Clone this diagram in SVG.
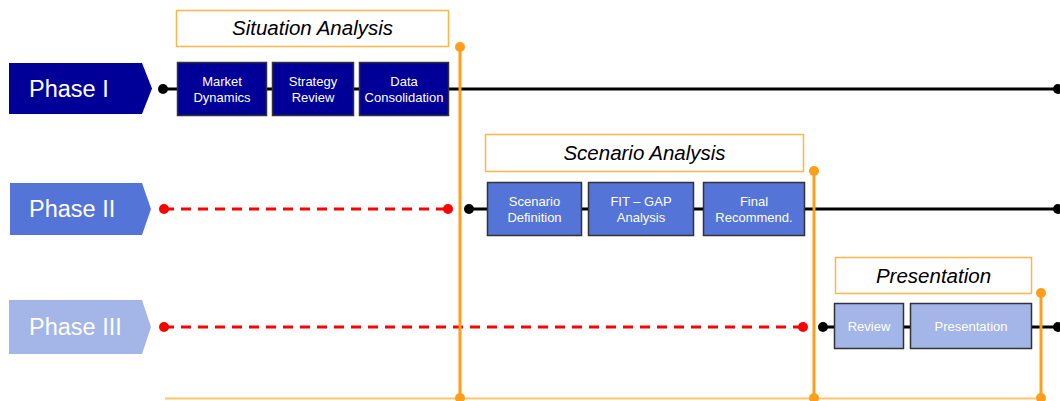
<svg xmlns="http://www.w3.org/2000/svg" width="1060" height="401" viewBox="0 0 1060 401">
<style>
.ph{font-family:"Liberation Sans",Arial,sans-serif;font-size:23.5px;fill:#fff}
.bx{font-family:"Liberation Sans",Arial,sans-serif;font-size:13px;fill:#fff;text-anchor:middle}
.tt{font-family:"Liberation Sans",Arial,sans-serif;font-size:20.5px;font-style:italic;fill:#000;text-anchor:middle}
.tb{fill:#fff;stroke:#FFB547;stroke-width:1.5}
.st{stroke:#333;stroke-width:1.5}
.bl{stroke:#000;stroke-width:3;fill:none}
.rd{stroke:#FF0000;stroke-width:3;stroke-dasharray:10 7;fill:none}
.or{stroke:#FF9E1B;stroke-width:3;fill:none}
</style>
<rect width="1060" height="401" fill="#fff"/>
<g id="connectors">
<line class="bl" x1="163" y1="89" x2="1058" y2="89"/>
<circle cx="163" cy="89" r="5" fill="#000"/>
<circle cx="1058" cy="89" r="5" fill="#000"/>
<line class="rd" x1="164" y1="209" x2="448" y2="209"/>
<circle cx="164" cy="209" r="5" fill="#f00"/>
<circle cx="448" cy="209" r="5" fill="#f00"/>
<line class="bl" x1="469" y1="209" x2="1058" y2="209"/>
<circle cx="469" cy="209" r="5" fill="#000"/>
<circle cx="1058" cy="209" r="5" fill="#000"/>
<line class="rd" x1="164" y1="327" x2="803" y2="327"/>
<circle cx="164" cy="327" r="5" fill="#f00"/>
<circle cx="803" cy="327" r="5" fill="#f00"/>
<line class="bl" x1="823" y1="327" x2="1058" y2="327"/>
<circle cx="823" cy="327" r="5" fill="#000"/>
<circle cx="1058" cy="327" r="5" fill="#000"/>
<line x1="165" y1="398.5" x2="1045" y2="398.5" stroke="#FFC56E" stroke-width="2"/>
<line class="or" x1="460" y1="47" x2="460" y2="398"/>
<circle cx="460" cy="47" r="5" fill="#FF9E1B"/>
<circle cx="460" cy="398" r="5" fill="#FF9E1B"/>
<line class="or" x1="814" y1="171" x2="814" y2="398"/>
<circle cx="814" cy="171" r="5" fill="#FF9E1B"/>
<circle cx="814" cy="398" r="5" fill="#FF9E1B"/>
<line class="or" x1="1041" y1="293" x2="1041" y2="398"/>
<circle cx="1041" cy="293" r="5" fill="#FF9E1B"/>
<circle cx="1041" cy="398" r="5" fill="#FF9E1B"/>
</g>
<g id="phase1">
<polygon points="9,63 142,63 152,88.5 142,114 9,114" fill="#000099"/>
<text class="ph" x="29" y="97">Phase I</text>
</g>
<g id="phase2">
<polygon points="10,183 142,183 151,209 142,235 10,235" fill="#5474D8"/>
<text class="ph" x="29" y="217">Phase II</text>
</g>
<g id="phase3">
<polygon points="9,300 142,300 151,327 142,354 9,354" fill="#A4B5E8"/>
<text class="ph" x="29" y="335">Phase III</text>
</g>
<g id="title1">
<rect class="tb" x="176.5" y="10.5" width="272" height="36"/>
<text class="tt" x="312.5" y="35">Situation Analysis</text>
</g>
<g id="title2">
<rect class="tb" x="485.5" y="134.5" width="318" height="37"/>
<text class="tt" x="644.5" y="160">Scenario Analysis</text>
</g>
<g id="title3">
<rect class="tb" x="835.5" y="257.5" width="196" height="36"/>
<text class="tt" x="933.5" y="283">Presentation</text>
</g>
<g id="market">
<rect class="st" x="177.5" y="62.5" width="89" height="53" fill="#000099"/>
<text class="bx" x="222" y="86">Market</text><text class="bx" x="222" y="102">Dynamics</text>
</g>
<g id="strategy">
<rect class="st" x="272.5" y="62.5" width="81" height="53" fill="#000099"/>
<text class="bx" x="313" y="86">Strategy</text><text class="bx" x="313" y="102">Review</text>
</g>
<g id="data">
<rect class="st" x="359.5" y="62.5" width="89" height="53" fill="#000099"/>
<text class="bx" x="404" y="86">Data</text><text class="bx" x="404" y="102">Consolidation</text>
</g>
<g id="scenario">
<rect class="st" x="487.5" y="182.5" width="94" height="53" fill="#5474D8"/>
<text class="bx" x="534.5" y="206">Scenario</text><text class="bx" x="534.5" y="222">Definition</text>
</g>
<g id="fitgap">
<rect class="st" x="588.5" y="182.5" width="105" height="53" fill="#5474D8"/>
<text class="bx" x="641" y="206">FIT – GAP</text><text class="bx" x="641" y="222">Analysis</text>
</g>
<g id="final">
<rect class="st" x="703.5" y="182.5" width="101" height="53" fill="#5474D8"/>
<text class="bx" x="754" y="206">Final</text><text class="bx" x="754" y="222">Recommend.</text>
</g>
<g id="review">
<rect class="st" x="834.5" y="303.5" width="69" height="45" fill="#A4B5E8"/>
<text class="bx" x="869" y="331">Review</text>
</g>
<g id="presentation">
<rect class="st" x="910.5" y="303.5" width="121" height="45" fill="#A4B5E8"/>
<text class="bx" x="971" y="331">Presentation</text>
</g>
</svg>
